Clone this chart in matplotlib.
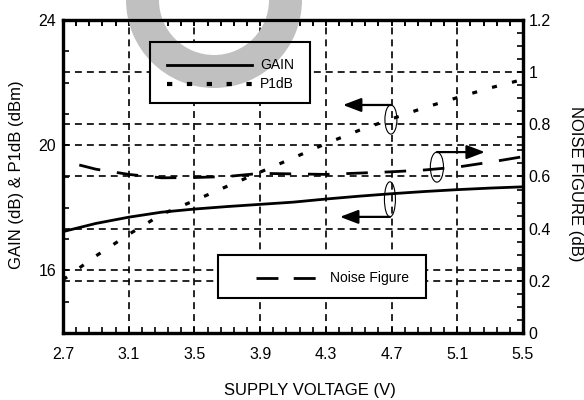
import numpy as np
import matplotlib
matplotlib.use('Agg')
import matplotlib.pyplot as plt
from matplotlib.patches import Rectangle, Ellipse, Wedge
from matplotlib.lines import Line2D
from matplotlib.ticker import FixedLocator
import matplotlib.transforms as mtransforms

plt.rcParams['font.family'] = ['Liberation Sans', 'DejaVu Sans']
plt.rcParams['lines.scale_dashes'] = False

# ---------------- data ----------------
voltage = [2.7, 2.9, 3.1, 3.3, 3.5, 3.7, 3.9, 4.1, 4.3, 4.5, 4.7, 4.9, 5.1, 5.3, 5.5]
gain_db = [17.24, 17.50, 17.70, 17.86, 17.96, 18.04, 18.11, 18.18, 18.28, 18.37,
           18.45, 18.52, 18.58, 18.63, 18.67]
p1db_dbm = [15.70, 16.46, 17.15, 17.79, 18.23, 18.69, 19.14, 19.59, 20.05, 20.47,
            20.84, 21.20, 21.52, 21.83, 22.10]
noise_figure_db = [0.660, 0.628, 0.608, 0.595, 0.596, 0.600, 0.612, 0.610, 0.608, 0.613,
                   0.618, 0.625, 0.636, 0.655, 0.676]

x_ticks = [2.7, 3.1, 3.5, 3.9, 4.3, 4.7, 5.1, 5.5]
x_tick_labels = ['2.7', '3.1', '3.5', '3.9', '4.3', '4.7', '5.1', '5.5']
left_ticks = [16, 20, 24]
left_tick_labels = ['16', '20', '24']
right_ticks = [0, 0.2, 0.4, 0.6, 0.8, 1.0, 1.2]
right_tick_labels = ['0', '0.2', '0.4', '0.6', '0.8', '1', '1.2']

# ---------------- figure ----------------
W, H = 584, 400
fig = plt.figure(figsize=(W / 100, H / 100), dpi=100)
fig.patch.set_facecolor('white')

ax = fig.add_axes([63 / W, 67 / H, 460 / W, 313 / H])
ax.patch.set_visible(False)
ax2 = ax.twinx()
ax2.patch.set_visible(False)

ax.set_xlim(2.7, 5.5)
ax.set_ylim(14, 24)
ax2.set_ylim(0, 1.2)

for a in (ax, ax2):
    for s in a.spines.values():
        s.set_linewidth(2.3)

grid_ls = (0, (5, 3.6))
# ticks
ax.xaxis.set_major_locator(FixedLocator(x_ticks))
ax.set_xticklabels(x_tick_labels)
ax.xaxis.set_minor_locator(FixedLocator(np.linspace(2.7, 5.5, 36)))
ax.yaxis.set_major_locator(FixedLocator(left_ticks))
ax.set_yticklabels(left_tick_labels)
ax.yaxis.set_minor_locator(FixedLocator(np.arange(14, 25, 1)))
ax2.yaxis.set_major_locator(FixedLocator(right_ticks))
ax2.set_yticklabels(right_tick_labels)
ax2.yaxis.set_minor_locator(FixedLocator(np.arange(0, 1.2001, 0.05)))

ax.tick_params(axis='x', which='both', direction='in', top=True, length=4, width=1.2,
               labelsize=11.5, pad=10)
ax.tick_params(axis='y', which='both', direction='in', length=4, width=1.2,
               labelsize=11.5, pad=5)
ax2.tick_params(axis='y', which='both', direction='in', length=4, width=1.2,
                labelsize=11.5, pad=4)
# top ticks repeated on the upper axes so they sit above the watermark
ax2.xaxis.set_visible(True)
ax2.tick_params(axis='x', which='both', direction='in', bottom=False, top=True,
                labelbottom=False, labeltop=False, length=4, width=1.2)

ax.grid(True, axis='x', which='major', color='black', linestyle=grid_ls, linewidth=1.2)
ax.grid(True, axis='y', which='major', color='black', linestyle=grid_ls, linewidth=1.2)
ax2.grid(True, axis='y', which='major', color='black', linestyle=grid_ls, linewidth=1.2)

# data lines
ax.plot(voltage, gain_db, color='black', linewidth=2.0, zorder=3)
ax.plot(voltage, p1db_dbm, color='black', linewidth=2.3, linestyle=(0, (3.6, 11.2)), zorder=3)
ax2.plot(voltage, noise_figure_db, color='black', linewidth=2.0,
         linestyle=(15.5, (15.5, 12.1)), zorder=3)

# annotations: ellipses + arrows
arrow_kw = dict(arrowstyle='-|>,head_length=1.1,head_width=0.42', color='black', lw=1.6,
                shrinkA=0, shrinkB=0, mutation_scale=10)
for (cx, cy, w, h) in [(4.696, 20.82, 0.073, 0.93), (4.976, 19.30, 0.08, 0.96),
                       (4.69, 18.27, 0.067, 1.12)]:
    ax.add_patch(Ellipse((cx, cy), w, h, fill=False, edgecolor='black', linewidth=0.8, zorder=4))
ax.annotate('', xy=(4.404, 21.285), xytext=(4.696, 21.285), arrowprops=arrow_kw, zorder=4)
ax.annotate('', xy=(5.268, 19.78), xytext=(4.976, 19.78), arrowprops=arrow_kw, zorder=4)
ax.annotate('', xy=(4.386, 17.71), xytext=(4.69, 17.71), arrowprops=arrow_kw, zorder=4)

# legend boxes (drawn in the top axes so they cover grid)
T = ax2.transAxes
box1 = (0.189, 0.735, 0.348, 0.195)
box2 = (0.337, 0.112, 0.452, 0.137)
for (bx, by, bw, bh) in (box1, box2):
    ax2.add_patch(Rectangle((bx, by), bw, bh, transform=T, facecolor='white',
                            edgecolor='none', zorder=1.8))
    ax2.add_patch(Rectangle((bx, by), bw, bh, transform=T, fill=False,
                            edgecolor='black', linewidth=1.5, zorder=11))

# watermark ring: above the legend fill, below all black ink
ring = Wedge((214, 400), 88, 0, 360, width=33, transform=mtransforms.IdentityTransform(),
             facecolor='#c0c0c0', edgecolor='none', zorder=2.0, clip_on=False)
ax2.add_artist(ring)

ax2.add_line(Line2D([0.226, 0.411], [0.856, 0.856], transform=T, color='black',
                    linewidth=2.0, zorder=11))
ax2.text(0.428, 0.856, 'GAIN', transform=T, fontsize=10, va='center', ha='left', zorder=11)
ax2.add_line(Line2D([0.226, 0.411], [0.796, 0.796], transform=T, color='black',
                    linewidth=3.0, linestyle=(0, (3.8, 10.5)), zorder=11))
ax2.text(0.428, 0.796, 'P1dB', transform=T, fontsize=10, va='center', ha='left', zorder=11)

ax2.add_line(Line2D([0.420, 0.552], [0.176, 0.176], transform=T, color='black',
                    linewidth=2.0, linestyle=(0, (15.8, 11.0)), zorder=11))
ax2.text(0.580, 0.176, 'Noise Figure', transform=T, fontsize=10, va='center', ha='left',
         zorder=11)

# axis labels
fig.text(310 / W, 1 - 390 / H, 'SUPPLY VOLTAGE (V)', fontsize=12, ha='center', va='center')
fig.text(17 / W, 1 - 175 / H, 'GAIN (dB) & P1dB (dBm)', fontsize=12, rotation=90,
         ha='center', va='center')
fig.text(575 / W, 1 - 184 / H, 'NOISE FIGURE (dB)', fontsize=12, rotation=270,
         ha='center', va='center')

fig.savefig('out.png', dpi=100, facecolor='white')
